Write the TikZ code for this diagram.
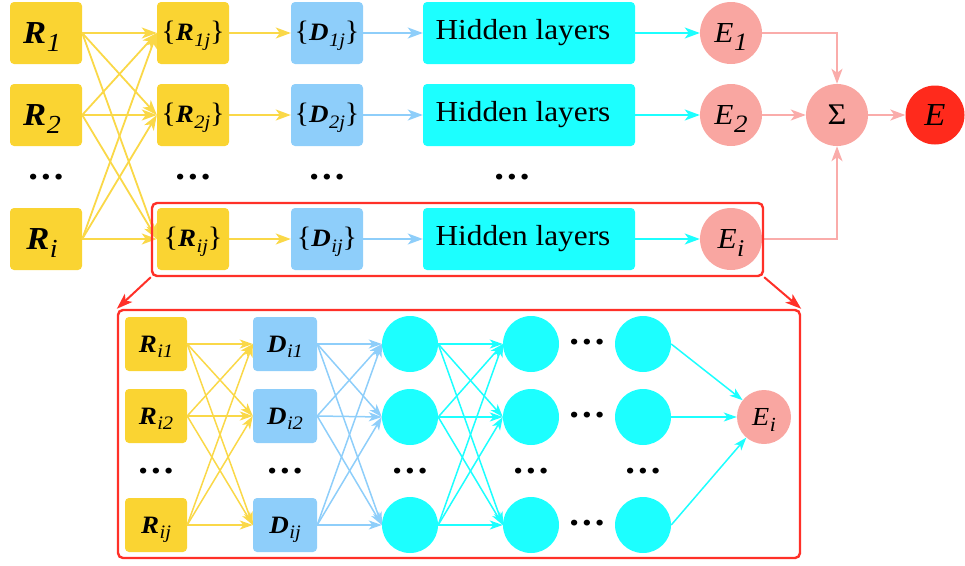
\documentclass[tikz,border=0pt]{standalone}
\usepackage{fontspec}
\setmainfont{Liberation Serif}[FakeStretch=1.08]
\usetikzlibrary{arrows.meta}

\definecolor{boxyellow}{RGB}{250,212,50}
\definecolor{lineyellow}{RGB}{250,216,72}
\definecolor{boxblue}{RGB}{142,206,250}
\definecolor{boxcyan}{RGB}{28,255,255}
\definecolor{nodepink}{RGB}{249,166,161}
\definecolor{linepink}{RGB}{250,172,170}
\definecolor{outred}{RGB}{255,42,28}
\definecolor{framered}{RGB}{255,48,40}

% lowered subscript that does not move the node centre: #1 drop, #2 size, #3 text
\newcommand{\subtxt}[3]{\raisebox{-#1}[0pt][0pt]{\normalfont\fontsize{#2}{#2}\selectfont\itshape #3}}
% bold italic symbol with subscript: #1 size, #2 letter, #3 sub size, #4 drop, #5 sub
\newcommand{\boldsym}[5]{{\fontsize{#1}{#1}\selectfont\bfseries\itshape #2}\kern0.5pt\subtxt{#4}{#3}{#5}}
% italic symbol with subscript
\newcommand{\itsym}[5]{{\fontsize{#1}{#1}\selectfont\itshape #2}\kern0.5pt\subtxt{#4}{#3}{#5}}
% set braces round a symbol
\newcommand{\setof}[1]{{\fontsize{28}{28}\selectfont\{}#1{\fontsize{28}{28}\selectfont\}}}
% row of three bold dots
\newcommand{\threedots}{{\fontsize{36}{36}\selectfont\bfseries .\kern3pt.\kern3pt.}}

\begin{document}
\begin{tikzpicture}[x=1pt,y=-1pt,
  ybox/.style={fill=boxyellow, rounded corners=4pt, minimum width=72pt,
    minimum height=62pt, inner sep=0pt},
  bbox/.style={ybox, fill=boxblue},
  sybox/.style={ybox, minimum width=62pt, minimum height=54pt},
  sbbox/.style={sybox, fill=boxblue, minimum width=64pt},
  hbox/.style={fill=boxcyan, rounded corners=4pt, minimum width=212pt,
    minimum height=62pt, inner sep=0pt, font=\fontsize{29}{29}\selectfont},
  ecirc/.style={circle, fill=nodepink, minimum size=62pt, inner sep=0pt},
  outcirc/.style={circle, fill=outred, minimum size=59pt, inner sep=0pt},
  neuron/.style={circle, fill=boxcyan, minimum size=56pt, inner sep=0pt},
  secirc/.style={circle, fill=nodepink, minimum size=54pt, inner sep=0pt},
  dotsnode/.style={inner sep=0pt},
  frame/.style={draw=framered, line width=2.4pt, rounded corners=5pt, inner sep=0pt},
  tipbig/.style={-{Stealth[length=15pt,width=11pt,inset=4pt]}},
  tipsmall/.style={-{Stealth[length=13pt,width=9pt,inset=3.5pt]}},
  ylink/.style={tipbig, draw=lineyellow, line width=1.8pt},
  blink/.style={tipbig, draw=boxblue, line width=1.8pt},
  clink/.style={tipbig, draw=boxcyan, line width=1.8pt},
  plink/.style={tipbig, draw=linepink, line width=1.8pt},
  sylink/.style={tipsmall, draw=lineyellow, line width=1.5pt},
  sblink/.style={tipsmall, draw=boxblue, line width=1.5pt},
  sclink/.style={tipsmall, draw=boxcyan, line width=1.5pt},
  redlink/.style={-{Stealth[length=16pt,width=11pt,inset=4pt]}, draw=framered, line width=2pt}
]
\useasboundingbox (0,0) rectangle (965,565);

% ---------- upper network ----------
\node[ybox] (r1) at (46,33)  {\kern-8pt\boldsym{32}{R}{26}{8pt}{1}};
\node[ybox] (r2) at (46,115) {\kern-8pt\boldsym{32}{R}{26}{8pt}{2}};
\node[dotsnode] (rd) at (46,177) {\threedots};
\node[ybox] (ri) at (46,239) {\kern-8pt\boldsym{32}{R}{26}{8pt}{i}};

\node[ybox] (s1) at (193,33)  {\setof{\boldsym{25}{R}{19}{6pt}{1j}}};
\node[ybox] (s2) at (193,115) {\setof{\boldsym{25}{R}{19}{6pt}{2j}}};
\node[dotsnode] (sd) at (193,177) {\threedots};
\node[ybox] (si) at (193,239) {\setof{\boldsym{25}{R}{19}{6pt}{ij}}};

\node[bbox] (d1) at (327,33)  {\setof{\boldsym{25}{D}{19}{6pt}{1j}}};
\node[bbox] (d2) at (327,115) {\setof{\boldsym{25}{D}{19}{6pt}{2j}}};
\node[dotsnode] (dd) at (327,177) {\threedots};
\node[bbox] (di) at (327,239) {\setof{\boldsym{25}{D}{19}{6pt}{ij}}};

\node[hbox] (h1) at (529,33)  {\kern-12pt Hidden layers};
\node[hbox] (h2) at (529,115) {\kern-12pt Hidden layers};
\node[dotsnode] (hd) at (512,177) {\threedots};
\node[hbox] (hi) at (529,239) {\kern-12pt Hidden layers};

\node[ecirc] (e1) at (731,33)  {\itsym{29}{E}{25}{8pt}{1}};
\node[ecirc] (e2) at (731,115) {\itsym{29}{E}{25}{8pt}{2}};
\node[ecirc] (ei) at (731,239) {\itsym{29}{E}{24}{8pt}{i}};

\node[ecirc] (sum) at (837,115) {\fontsize{30}{30}\selectfont Σ};
\node[outcirc] (etot) at (935,115) {\fontsize{32}{32}\selectfont\itshape E};

\foreach \s in {r1,r2,ri}{
  \foreach \t in {s1,s2,si}{
    \draw[ylink] (\s.east) -- (\t.west);
  }
}
\foreach \k in {1,2,i}{
  \draw[ylink] (s\k.east) -- (d\k.west);
  \draw[blink] (d\k.east) -- (h\k.west);
  \draw[clink] (h\k.east) -- (e\k.west);
}
\draw[plink] (e1.east) -| (sum.north);
\draw[plink] (e2.east) -- (sum.west);
\draw[plink] (ei.east) -| (sum.south);
\draw[plink] (sum.east) -- (etot.west);

% ---------- frames ----------
\node[frame, minimum width=611pt, minimum height=73pt] (topframe) at (457.5,239.5) {};
\node[frame, minimum width=682pt, minimum height=248pt] (botframe) at (459,434) {};
\draw[redlink] (topframe.south west) -- (botframe.north west);
\draw[redlink] (topframe.south east) -- (botframe.north east);

% ---------- expanded network ----------
\node[sybox] (br1) at (156,344) {\boldsym{25}{R}{19}{5pt}{i1}};
\node[sybox] (br2) at (156,416) {\boldsym{25}{R}{19}{5pt}{i2}};
\node[dotsnode] (brd) at (156,471) {\threedots};
\node[sybox] (brj) at (156,525) {\boldsym{25}{R}{19}{5pt}{ij}};

\node[sbbox] (bd1) at (285,344) {\boldsym{25}{D}{19}{5pt}{i1}};
\node[sbbox] (bd2) at (285,416) {\boldsym{25}{D}{19}{5pt}{i2}};
\node[dotsnode] (bdd) at (285,471) {\threedots};
\node[sbbox] (bdj) at (285,525) {\boldsym{25}{D}{19}{5pt}{ij}};

\foreach \c/\x in {a/410,b/531,c/643}{
  \node[neuron] (\c1) at (\x,344) {};
  \node[neuron] (\c2) at (\x,417) {};
  \node[dotsnode] (\c d) at (\x,471) {\threedots};
  \node[neuron] (\c j) at (\x,525) {};
}
\node[dotsnode] (m1) at (587,342) {\threedots};
\node[dotsnode] (m2) at (587,415) {\threedots};
\node[dotsnode] (mj) at (587,523) {\threedots};

\node[secirc] (bE) at (764,417) {\itsym{26}{E}{20}{6pt}{i}};

\foreach \s in {1,2,j}{
  \foreach \t in {1,2,j}{
    \draw[sylink] (br\s.east) -- (bd\t.west);
    \draw[sblink] (bd\s.east) -- (a\t.west);
    \draw[sclink] (a\s.east) -- (b\t.west);
  }
  \draw[sclink] (c\s.east) -- (bE);
}
\end{tikzpicture}
\end{document}
